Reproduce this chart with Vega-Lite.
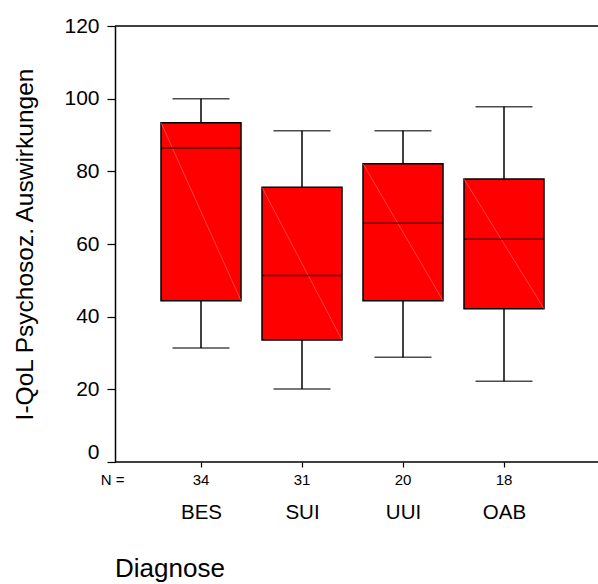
{
  "$schema": "https://vega.github.io/schema/vega-lite/v6.json",
  "autosize": {"type": "none"},
  "padding": {"left": 115, "top": 26, "right": 0, "bottom": 122},
  "width": 483,
  "height": 436,
  "config": {"font": "Liberation Sans", "view": {"stroke": null}},
  "title": {"text": "Diagnose", "orient": "bottom", "anchor": "start", "frame": "group", "fontSize": 26, "fontWeight": "normal", "color": "black", "baseline": "alphabetic", "offset": 54},
  "data": {"values": [
    {"d": "BES", "n": 34, "lo": 31.4, "q1": 44.4, "med": 86.4, "q3": 93.4, "hi": 100},
    {"d": "SUI", "n": 31, "lo": 20.1, "q1": 33.6, "med": 51.3, "q3": 75.6, "hi": 91.2},
    {"d": "UUI", "n": 20, "lo": 28.8, "q1": 44.4, "med": 65.7, "q3": 82.1, "hi": 91.2},
    {"d": "OAB", "n": 18, "lo": 22.2, "q1": 42.2, "med": 61.3, "q3": 77.9, "hi": 97.8}
  ]},
  "layer": [
    {
      "mark": {"type": "rule", "color": "black", "strokeWidth": 1.5},
      "encoding": {
        "x": {"field": "d", "type": "nominal", "sort": null,
          "scale": {"type": "point", "range": [86, 389], "padding": 0},
          "axis": {"title": "N =", "titleX": -3, "titleY": 17.5, "titleAlign": "center", "titleBaseline": "middle", "titleFontSize": 15, "titleFontWeight": "normal", "titleColor": "black", "titleAngle": 0,
            "labelAngle": 0, "labelFontSize": 20.5, "labelColor": "black", "labelPadding": 45, "labelBaseline": "middle",
            "domain": false, "tickColor": "black", "tickSize": 5, "tickWidth": 1.2}},
        "y": {"field": "lo", "type": "quantitative",
          "scale": {"domain": [0, 120], "nice": false, "zero": false},
          "axis": {"values": [0, 20, 40, 60, 80, 100, 120], "grid": false, "title": "I-QoL Psychosoz. Auswirkungen", "titleFontSize": 24.5, "titleFontWeight": "normal", "titleColor": "black", "titlePadding": 26,
            "labelFontSize": 21, "labelColor": "black", "labelPadding": 8,
            "labelOffset": {"condition": {"test": "datum.value === 0", "value": -10}, "value": 0},
            "domainColor": "black", "domainWidth": 1.5, "tickColor": "black", "tickSize": 8, "tickWidth": 1.2}},
        "y2": {"field": "q1"}
      }
    },
    {
      "mark": {"type": "rule", "color": "black", "strokeWidth": 1.5},
      "encoding": {
        "x": {"field": "d", "type": "nominal", "sort": null},
        "y": {"field": "q3", "type": "quantitative"},
        "y2": {"field": "hi"}
      }
    },
    {
      "mark": {"type": "tick", "orient": "horizontal", "color": "black", "size": 57, "thickness": 1.5},
      "encoding": {
        "x": {"field": "d", "type": "nominal", "sort": null},
        "y": {"field": "lo", "type": "quantitative"}
      }
    },
    {
      "mark": {"type": "tick", "orient": "horizontal", "color": "black", "size": 57, "thickness": 1.5},
      "encoding": {
        "x": {"field": "d", "type": "nominal", "sort": null},
        "y": {"field": "hi", "type": "quantitative"}
      }
    },
    {
      "mark": {"type": "bar", "width": 80, "fill": "#ff0000", "stroke": "black", "strokeWidth": 1.5},
      "encoding": {
        "x": {"field": "d", "type": "nominal", "sort": null},
        "y": {"field": "q1", "type": "quantitative"},
        "y2": {"field": "q3"}
      }
    },
    {
      "mark": {"type": "rule", "color": "#ff7070", "strokeWidth": 0.6, "xOffset": -40, "x2Offset": 40},
      "encoding": {
        "x": {"field": "d", "type": "nominal", "sort": null},
        "x2": {"field": "d"},
        "y": {"field": "q3", "type": "quantitative"},
        "y2": {"field": "q1"}
      }
    },
    {
      "mark": {"type": "tick", "orient": "horizontal", "color": "black", "size": 80, "thickness": 1.5},
      "encoding": {
        "x": {"field": "d", "type": "nominal", "sort": null},
        "y": {"field": "med", "type": "quantitative"}
      }
    },
    {
      "mark": {"type": "text", "fontSize": 15, "color": "black", "baseline": "middle", "align": "center", "dy": 17.5},
      "encoding": {
        "x": {"field": "d", "type": "nominal", "sort": null},
        "y": {"datum": 0},
        "text": {"field": "n", "type": "quantitative"}
      }
    },
    {
      "data": {"values": [{"edge": 120}, {"edge": 0}]},
      "mark": {"type": "rule", "color": "black", "strokeWidth": 1.5},
      "encoding": {
        "y": {"field": "edge", "type": "quantitative"}
      }
    }
  ]
}
